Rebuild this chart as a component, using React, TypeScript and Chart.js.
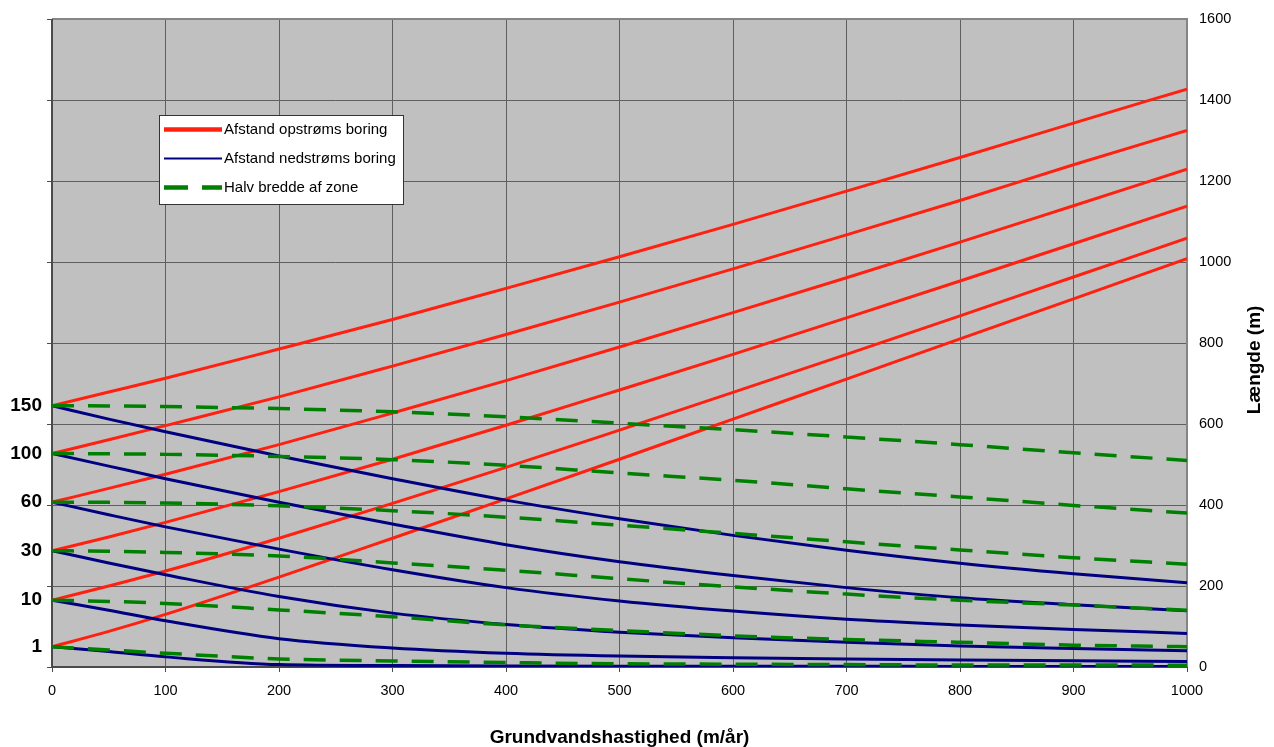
import { useEffect, useRef } from 'react';
import { Chart, registerables } from 'chart.js';

Chart.register(...registerables);

// Groundwater velocity (m/år)
const velocity = [0, 50, 100, 200, 300, 400, 500, 600, 700, 800, 900, 1000];

// Afstand opstrøms boring (m)
const upstreamQ1 = [50, 88, 130, 222, 318, 415, 513, 612, 711, 810, 909, 1008];
const upstreamQ10 = [165, 200, 237, 318, 404, 493, 585, 678, 772, 867, 963, 1059];
const upstreamQ30 = [287, 321, 357, 433, 513, 597, 684, 772, 862, 953, 1045, 1138];
const upstreamQ60 = [407, 441, 476, 549, 627, 707, 790, 875, 961, 1049, 1139, 1229];
const upstreamQ100 = [527, 561, 596, 667, 743, 821, 901, 983, 1067, 1152, 1240, 1325];
const upstreamQ150 = [645, 679, 713, 785, 858, 935, 1013, 1093, 1175, 1258, 1343, 1427];

// Afstand nedstrøms boring (m)
const downstreamQ1 = [50, 38, 25, 6, 3.5, 2.5, 2, 1.8, 1.6, 1.5, 1.3, 1.2];
const downstreamQ10 = [165, 140, 114, 70, 47, 34, 27, 23, 20, 17.5, 15.3, 13.5];
const downstreamQ30 = [287, 257, 228, 174, 133, 105, 86, 72, 61, 52, 45.5, 40];
const downstreamQ60 = [407, 376, 346, 291, 240, 196, 163, 138, 118, 104, 92.5, 83];
const downstreamQ100 = [527, 496, 465, 407, 353, 302, 260, 226, 196, 171, 154, 139];
const downstreamQ150 = [645, 612, 581, 521, 465, 412, 366, 325, 288, 256, 230, 208];

// Halv bredde af zone (m)
const halfWidthQ1 = [50, 42, 34, 20, 15, 11, 8, 7, 6, 5, 5, 4.5];
const halfWidthQ10 = [165, 162, 157, 141, 124, 104, 90, 77, 68, 61, 54, 50];
const halfWidthQ30 = [287, 286, 283, 274, 257, 239, 218, 198, 180, 165, 153, 140];
const halfWidthQ60 = [407, 406.5, 405, 398, 386, 370, 350, 330, 309, 289, 270, 254];
const halfWidthQ100 = [527, 526.5, 525, 520, 512, 498, 479, 461, 440, 420, 399, 380];
const halfWidthQ150 = [645, 644.5, 643, 638, 630, 618, 602, 586, 568, 549, 529, 510];

// Left axis labels placed at the start value of each line group
const leftTickValues = [50, 165, 287, 407, 527, 645];
const leftTickLabels = ['1', '10', '30', '60', '100', '150'];

// Right axis ticks
const rightTickValues = [0, 200, 400, 600, 800, 1000, 1200, 1400, 1600];
const xTickStep = 100;

const seriesNames = ['Afstand opstrøms boring', 'Afstand nedstrøms boring', 'Halv bredde af zone'];
const xTitle = 'Grundvandshastighed (m/år)';
const yTitle = 'Længde (m)';

const RED = '#ff2010';
const BLUE = '#000080';
const GREEN = '#008000';
const FONT = '"Liberation Sans", Arial, sans-serif';

export default function App() {
  const ref = useRef<HTMLCanvasElement>(null);

  useEffect(() => {
    if (!ref.current) return;

    const mk = (label: string, values: number[], color: string, width: number, dash: number[], order: number) => ({
      label,
      data: velocity.map((v, i) => ({ x: v, y: values[i] })),
      borderColor: color,
      borderWidth: width,
      borderDash: dash,
      borderCapStyle: 'butt' as const,
      pointRadius: 0,
      cubicInterpolationMode: 'monotone' as const,
      fill: false,
      order,
    });

    const upstream = [upstreamQ1, upstreamQ10, upstreamQ30, upstreamQ60, upstreamQ100, upstreamQ150];
    const downstream = [downstreamQ1, downstreamQ10, downstreamQ30, downstreamQ60, downstreamQ100, downstreamQ150];
    const halfWidth = [halfWidthQ1, halfWidthQ10, halfWidthQ30, halfWidthQ60, halfWidthQ100, halfWidthQ150];

    const datasets: any[] = [];
    upstream.forEach((d) => datasets.push(mk(seriesNames[0], d, RED, 3, [], 2)));
    downstream.forEach((d) => datasets.push(mk(seriesNames[1], d, BLUE, 3, [], 1)));
    halfWidth.forEach((d) => datasets.push(mk(seriesNames[2], d, GREEN, 3.5, [22, 14], 0)));

    const labelMap: Record<number, string> = {};
    leftTickValues.forEach((v, i) => (labelMap[v] = leftTickLabels[i]));

    const decorPlugin = {
      id: 'decor',
      beforeDraw(chart: any) {
        const { ctx, chartArea: a } = chart;
        ctx.save();
        ctx.fillStyle = '#c0c0c0';
        ctx.fillRect(a.left, a.top, a.right - a.left, a.bottom - a.top);
        ctx.restore();
      },
      beforeDatasetsDraw(chart: any) {
        const { ctx, chartArea: a } = chart;
        ctx.save();
        ctx.lineWidth = 2;
        ctx.strokeStyle = '#858585';
        ctx.beginPath();
        ctx.moveTo(a.left, a.top);
        ctx.lineTo(a.right, a.top);
        ctx.lineTo(a.right, a.bottom);
        ctx.stroke();
        ctx.strokeStyle = '#4a4a4a';
        ctx.beginPath();
        ctx.moveTo(a.left, a.top);
        ctx.lineTo(a.left, a.bottom);
        ctx.lineTo(a.right, a.bottom);
        ctx.stroke();
        ctx.restore();
      },
      afterDraw(chart: any) {
        const { ctx, chartArea: a } = chart;
        ctx.save();
        // legend
        const bx = 152, by = 108, bw = 243, bh = 88;
        ctx.fillStyle = '#ffffff';
        ctx.fillRect(bx, by, bw, bh);
        ctx.strokeStyle = '#333333';
        ctx.lineWidth = 1;
        ctx.strokeRect(bx - 0.5, by - 0.5, bw + 1, bh + 1);
        const rows = [
          { y: 121.5, color: RED, w: 4.5, dash: [] as number[] },
          { y: 150.5, color: BLUE, w: 2, dash: [] as number[] },
          { y: 179.5, color: GREEN, w: 4.5, dash: [24, 14] },
        ];
        rows.forEach((r, i) => {
          ctx.beginPath();
          ctx.setLineDash(r.dash);
          ctx.lineCap = 'butt';
          ctx.strokeStyle = r.color;
          ctx.lineWidth = r.w;
          ctx.moveTo(156, r.y);
          ctx.lineTo(214, r.y);
          ctx.stroke();
          ctx.setLineDash([]);
          ctx.fillStyle = '#000';
          ctx.font = `15px ${FONT}`;
          ctx.textBaseline = 'middle';
          ctx.textAlign = 'left';
          ctx.fillText(seriesNames[i], 216, r.y + 0.5);
        });
        // axis titles
        ctx.fillStyle = '#000';
        ctx.font = `bold 19px ${FONT}`;
        ctx.textAlign = 'center';
        ctx.textBaseline = 'middle';
        ctx.fillText(xTitle, (a.left + a.right) / 2, 730);
        ctx.translate(1247, 352);
        ctx.rotate(-Math.PI / 2);
        ctx.fillText(yTitle, 0, 0);
        ctx.restore();
      },
    };

    const chart = new Chart(ref.current, {
      type: 'line',
      data: { datasets },
      options: {
        animation: false,
        responsive: false,
        layout: { padding: { top: 11, left: 0, right: 0, bottom: 0 } },
        plugins: { legend: { display: false }, tooltip: { enabled: false } },
        scales: {
          x: {
            type: 'linear',
            min: 0,
            max: 1000,
            ticks: {
              stepSize: xTickStep,
              color: '#000',
              font: { family: FONT, size: 14.5 },
              padding: 10,
              maxRotation: 0,
              callback: (v: any) => String(v),
            },
            grid: { color: '#5f5f5f', lineWidth: 1, tickLength: 5, tickColor: '#4a4a4a' },
            border: { display: false },
            afterFit: (s: any) => {
              s.height = 80;
              s.paddingLeft = 0;
              s.paddingRight = 0;
            },
          },
          y: {
            type: 'linear',
            position: 'right',
            min: 0,
            max: 1600,
            afterBuildTicks: (s: any) => {
              s.ticks = rightTickValues.map((v) => ({ value: v }));
            },
            ticks: {
              color: '#000',
              font: { family: FONT, size: 14.5 },
              padding: 12,
              callback: (v: any) => String(v),
            },
            grid: { color: '#5f5f5f', lineWidth: 1, drawTicks: false },
            border: { display: false },
            afterFit: (s: any) => {
              s.width = 87;
              s.paddingTop = 0;
              s.paddingBottom = 0;
            },
          },
          yL: {
            type: 'linear',
            position: 'left',
            min: 0,
            max: 1600,
            afterBuildTicks: (s: any) => {
              const vals = [...rightTickValues, ...leftTickValues].sort((p, q) => p - q);
              s.ticks = vals.map((v) => ({ value: v }));
            },
            ticks: {
              autoSkip: false,
              color: '#000',
              font: { family: FONT, size: 19, weight: 'bold' },
              padding: 5,
              callback: (v: any) => labelMap[v as number] ?? '',
            },
            grid: {
              drawOnChartArea: false,
              tickLength: 5,
              color: (c: any) => (c.tick && leftTickValues.includes(c.tick.value) ? 'rgba(0,0,0,0)' : '#4a4a4a'),
            },
            border: { display: false },
            afterFit: (s: any) => {
              s.width = 44;
              s.paddingTop = 0;
              s.paddingBottom = 0;
            },
          },
        },
      } as any,
      plugins: [decorPlugin],
    });

    return () => chart.destroy();
  }, []);

  return <canvas ref={ref} width={1266} height={739} style={{ display: 'block' }} />;
}
